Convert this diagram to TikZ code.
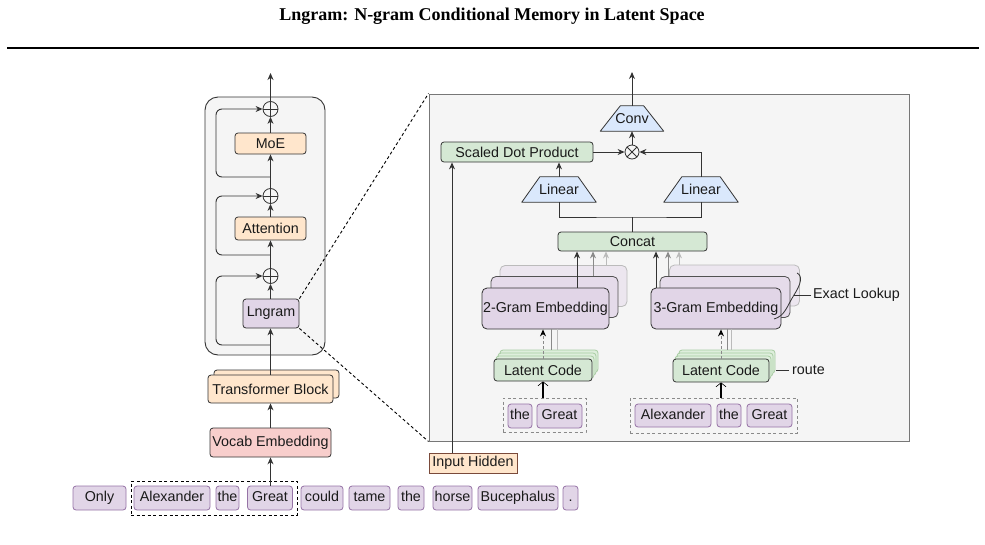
\documentclass[tikz,border=0pt]{standalone}
\usepackage{fontspec}
\setmainfont{Liberation Sans}
\newfontfamily\titlefont{Liberation Serif}
\usetikzlibrary{arrows.meta}
\pgfdeclarelayer{bg}
\pgfdeclarelayer{mid}
\pgfsetlayers{bg,mid,main}
\definecolor{peach}{HTML}{FFE6CC}
\definecolor{pinkf}{HTML}{F8CECC}
\definecolor{purp}{HTML}{E1D5E7}
\definecolor{purpb}{HTML}{E5DBEA}
\definecolor{purpc}{HTML}{ECE6EF}
\definecolor{purpd}{HTML}{9673A6}
\definecolor{greenf}{HTML}{D5E8D4}
\definecolor{greenb}{HTML}{DEEEDC}
\definecolor{greend}{HTML}{A8CCA3}
\definecolor{bluef}{HTML}{DAE8FC}
\definecolor{panel}{HTML}{F5F5F5}
\definecolor{edge}{HTML}{333333}
\definecolor{txt}{HTML}{1A1A1A}
\definecolor{gmid}{HTML}{8A8A8A}
\definecolor{glight}{HTML}{BBBBBB}
\definecolor{brownd}{HTML}{7A4A3A}
\definecolor{panelb}{HTML}{777777}
\begin{document}
\begin{tikzpicture}[x=1pt,y=-1pt,
  every node/.style={inner sep=0pt, text=txt, font=\fontsize{14.3}{16}\selectfont},
  box/.style={draw=edge, line width=0.8pt, rounded corners=3pt},
  peachbox/.style={box, fill=peach},
  greenbox/.style={box, fill=greenf},
  tok/.style={box, fill=purp, draw=purpd, minimum height=24, text height=10.5pt, text depth=3pt},
  circ/.style={circle, draw=edge, fill=panel, minimum size=15, line width=0.8pt},
  trap/.style={draw=edge, fill=bluef, line width=0.8pt, line join=round},
  arr/.style={draw=edge, line width=0.9pt, -{Stealth[length=7pt,width=6pt]}},
  ln/.style={draw=edge, line width=0.9pt},
  openarr/.style={draw=black, line width=1.1pt, -{Straight Barb[length=4pt,width=10pt,line width=0.6pt]}},
  dsh/.style={draw=black, line width=0.9pt, dash pattern=on 3pt off 2.5pt},
  gdsh/.style={draw=gmid, line width=0.9pt, dash pattern=on 3pt off 2.5pt},
  emb/.style={box, rounded corners=5pt, minimum width=127, minimum height=41},
  lat/.style={box, minimum height=22}
]
\useasboundingbox (0,0) rectangle (985,544);

% ---------- title ----------
\node[anchor=base, font=\titlefont\bfseries\fontsize{18}{20}\selectfont, text=black] (title) at (492,20) {Lngram: N-gram Conditional Memory in Latent Space};
\draw[line width=2.2pt, black] (7,48) -- (979,48);

% ---------- panels ----------
\begin{pgfonlayer}{bg}
\node[draw=edge, fill=panel, line width=0.9pt, rounded corners=13pt, minimum width=120, minimum height=258] (cont) at (265,226) {};
\node[draw=panelb, fill=panel, line width=1pt, minimum width=480, minimum height=347] (big) at (669,267.5) {};
\end{pgfonlayer}

% ---------- left column ----------
\node[circ] (p1) at (270.5,109) {};
\node[peachbox, minimum width=71, minimum height=21] (moe) at (270.5,143.5) {MoE};
\node[circ] (p2) at (270.5,196) {};
\node[peachbox, minimum width=71, minimum height=23] (attn) at (270.5,228.5) {Attention};
\node[circ] (p3) at (270.5,276) {};
\node[box, fill=purp, minimum width=56, minimum height=29] (lngram) at (271,313.5) {Lngram};
\node[peachbox, minimum width=125, minimum height=28] (tbb) at (276.5,384) {};
\node[peachbox, minimum width=125, minimum height=28] (tb) at (270.5,389) {Transformer Block};
\node[box, fill=pinkf, minimum width=121, minimum height=29] (vocab) at (270.5,442.5) {Vocab Embedding};

\foreach \c in {p1,p2,p3}{
  \draw[ln, line width=0.8pt] (\c.north) -- (\c.south) (\c.west) -- (\c.east);
}

% tokens
\node[tok, minimum width=53] (only) at (99.5,498) {Only};
\node[tok, minimum width=76] (alex) at (172,498) {Alexander};
\node[tok, minimum width=23] (the1) at (227.5,498) {the};
\node[tok, minimum width=45] (great1) at (270,498) {Great};
\node[tok, minimum width=42] (could) at (322,498) {could};
\node[tok, minimum width=41] (tame) at (369.5,498) {tame};
\node[tok, minimum width=26] (the2) at (411,498) {the};
\node[tok, minimum width=39] (horse) at (452.5,498) {horse};
\node[tok, minimum width=80] (buc) at (518,498) {Bucephalus};
\node[tok, minimum width=15] (dot) at (570.5,498) {.};
\node[dsh, minimum width=166, minimum height=34] (grp1) at (214,498) {};

% left column connectors
\coordinate (out1) at (270.5,73);
\coordinate (s1) at (270.5,177);
\coordinate (s2) at (270.5,255);
\coordinate (s3) at (270.5,345);
\coordinate (k1a) at (216,177);
\coordinate (k1b) at (216,109);
\coordinate (k2a) at (216,255);
\coordinate (k2b) at (216,196);
\coordinate (k3a) at (216,345);
\coordinate (k3b) at (216,276);
\draw[arr] (great1.north -| vocab.south) -- (vocab.south);
\draw[arr] (vocab.north) -- (tb.south);
\draw[arr] (tb.north) -- (lngram.south -| tb.north);
\draw[arr] (lngram.north -| p3.south) -- (p3.south);
\draw[arr] (p3.north) -- (attn.south);
\draw[arr] (attn.north) -- (p2.south);
\draw[arr] (p2.north) -- (moe.south);
\draw[arr] (moe.north) -- (p1.south);
\draw[arr] (p1.north) -- (out1);
\draw[arr, rounded corners=6pt] (s1) -- (k1a) -- (k1b) -- (p1.west);
\draw[arr, rounded corners=6pt] (s2) -- (k2a) -- (k2b) -- (p2.west);
\draw[arr, rounded corners=6pt] (s3) -- (k3a) -- (k3b) -- (p3.west);

% zoom lines
\draw[dsh] (lngram.north east) -- (big.north west);
\draw[dsh] (lngram.south east) -- (big.south west);

% ---------- right panel ----------
\node[minimum width=63, minimum height=25] (conv) at (632,118.5) {Conv};
\node[circ, minimum size=14] (ot) at (632,152) {};
\draw[ln, line width=0.8pt] (ot.north east) -- (ot.south west) (ot.north west) -- (ot.south east);
\node[greenbox, minimum width=152, minimum height=20] (sdp) at (517,152) {Scaled Dot Product};
\node[minimum width=74, minimum height=25] (lin1) at (559,189.5) {Linear};
\node[minimum width=74, minimum height=25] (lin2) at (701,189.5) {Linear};
\node[greenbox, minimum width=149, minimum height=19] (concat) at (632.5,241.5) {Concat};
\coordinate (j) at (632.5,217);
\coordinate (out2) at (632,72);

\begin{pgfonlayer}{mid}
\draw[trap] (conv.south west) -- (conv.south east) -- ([xshift=-20]conv.north east) -- ([xshift=20]conv.north west) -- cycle;
\draw[trap] (lin1.south west) -- (lin1.south east) -- ([xshift=-18]lin1.north east) -- ([xshift=18]lin1.north west) -- cycle;
\draw[trap] (lin2.south west) -- (lin2.south east) -- ([xshift=-18]lin2.north east) -- ([xshift=18]lin2.north west) -- cycle;
\end{pgfonlayer}

% embeddings
\node[emb, fill=purpc, draw=glight] (g2c) at (563.5,286) {};
\node[emb, fill=purpb, draw=edge!85] (g2b) at (554.5,297) {};
\node[emb, fill=purp] (g2) at (545.5,308.5) {2-Gram Embedding};
\node[emb, fill=purpc, draw=glight, minimum width=130] (g3c) at (734.5,285.5) {};
\node[emb, fill=purpb, draw=edge!85, minimum width=130] (g3b) at (725,297) {};
\node[emb, fill=purp, minimum width=130] (g3) at (716,308.5) {3-Gram Embedding};

% latent codes
\node[lat, fill=greenb, draw=greend, minimum width=98] (lat1d) at (549,361) {};
\node[lat, fill=greenb, draw=greend, minimum width=98] (lat1c) at (547,364) {};
\node[lat, fill=greenb, draw=greend, minimum width=98] (lat1b) at (545,367) {};
\node[lat, fill=greenf, minimum width=98] (lat1) at (543,370) {Latent Code};
\node[lat, fill=greenb, draw=greend, minimum width=96, minimum height=23] (lat2d) at (727,361.5) {};
\node[lat, fill=greenb, draw=greend, minimum width=96, minimum height=23] (lat2c) at (725,364.5) {};
\node[lat, fill=greenb, draw=greend, minimum width=96, minimum height=23] (lat2b) at (723,367.5) {};
\node[lat, fill=greenf, minimum width=96, minimum height=23] (lat2) at (721,370.5) {Latent Code};

% token groups
\node[tok, minimum width=24] (the3) at (520,416) {the};
\node[tok, minimum width=45] (great2) at (559.5,416) {Great};
\node[gdsh, minimum width=83, minimum height=34] (grp2) at (544.5,415) {};
\node[tok, minimum width=76, minimum height=23] (alex2) at (673,415.5) {Alexander};
\node[tok, minimum width=24, minimum height=23] (the4) at (729,415.5) {the};
\node[tok, minimum width=45, minimum height=23] (great3) at (769.5,415.5) {Great};
\node[gdsh, minimum width=167, minimum height=35] (grp3) at (713.5,415.5) {};

% input hidden
\node[draw=brownd, fill=peach, line width=0.8pt, minimum width=88, minimum height=20] (ih) at (473,463) {Input Hidden};

% labels
\node[anchor=west] (rt) at (792,370) {route};
\node[anchor=west] (el) at (813,295) {Exact Lookup};

% right panel connectors
\draw[arr] (conv.north) -- (out2);
\draw[arr] (ot.north) -- (conv.south);
\draw[arr] (sdp.east) -- (ot.west);
\draw[arr] (lin2.north) |- (ot.east);
\draw[arr] (lin1.north) -- (lin1.north |- sdp.south);
\draw[ln] (lin1.south) |- (j) -| (lin2.south);
\draw[ln] (concat.north) -- (j);
\draw[arr] ([xshift=-21]ih.north) -- ([xshift=-21]ih.north |- sdp.south);

% embedding -> concat
\draw[arr] ([xshift=31.5]g2.north) -- ([xshift=31.5]g2.north |- concat.south);
\draw[arr, draw=gmid, -{Stealth[length=7pt,width=6pt,gmid]}] ([xshift=38.5]g2b.north) -- ([xshift=38.5]g2b.north |- concat.south);
\draw[arr, draw=glight, -{Stealth[length=7pt,width=6pt,glight]}] ([xshift=42.5]g2c.north) -- ([xshift=42.5]g2c.north |- concat.south);
\draw[arr] ([xshift=-60]g3.north) -- ([xshift=-60]g3.north |- concat.south);
\draw[arr, draw=gmid, -{Stealth[length=7pt,width=6pt,gmid]}] ([xshift=-57]g3b.north) -- ([xshift=-57]g3b.north |- concat.south);
\draw[arr, draw=glight, -{Stealth[length=7pt,width=6pt,glight]}] ([xshift=-55.5]g3c.north) -- ([xshift=-55.5]g3c.north |- concat.south);

% latent -> embedding
\draw[arr, draw=gmid, dash pattern=on 3pt off 2pt, -{Stealth[length=7pt,width=6pt,black]}] (lat1.north) -- (lat1.north |- g2.south);
\draw[draw=gmid, line width=0.8pt] ([xshift=8]lat1.north |- lat1d.north) -- ([xshift=8]lat1.north |- g2.south);
\draw[draw=glight, line width=0.8pt] ([xshift=14]lat1.north |- lat1d.north) -- ([xshift=14]lat1.north |- g2.south);
\draw[arr, draw=gmid, dash pattern=on 3pt off 2pt, -{Stealth[length=7pt,width=6pt,black]}] (lat2.north) -- (lat2.north |- g3.south);
\draw[draw=gmid, line width=0.8pt] ([xshift=6]lat2.north |- lat2d.north) -- ([xshift=6]lat2.north |- g3.south);
\draw[draw=glight, line width=0.8pt] ([xshift=10]lat2.north |- lat2d.north) -- ([xshift=10]lat2.north |- g3.south);

% token groups -> latent
\draw[openarr] (grp2.north -| lat1.south) -- (lat1.south);
\draw[openarr] (grp3.north -| lat2.south) -- (lat2.south);

% label connectors
\draw[ln] ([xshift=-3]rt.west) -- ++(-13,0);
\draw[ln] ([xshift=-2]el.west) -- ++(-17,0);
\draw[ln, line width=0.8pt] (797,273) .. controls (803,276) and (801,284) .. (794,295)
      .. controls (787,306) and (785,316) .. (774,319);
\end{tikzpicture}
\end{document}
